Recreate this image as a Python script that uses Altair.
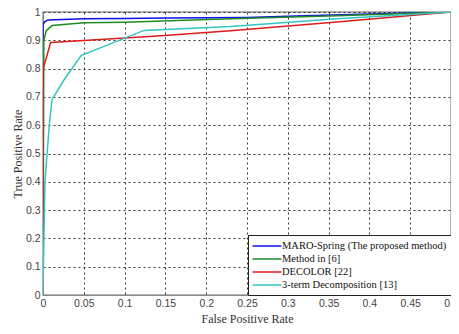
import altair as alt
import pandas as pd

series_names = ["MARO-Spring (The proposed method)", "Method in [6]", "DECOLOR [22]", "3-term Decomposition [13]"]
series_colors = ["#1010ee", "#1f8a1f", "#dd1c1c", "#33c4c4"]

fpr_maro = [0, 0, 0.002, 0.006, 0.05, 0.1, 0.15, 0.25, 0.31, 0.4, 0.5]
tpr_maro = [0, 0.955, 0.965, 0.972, 0.976, 0.977, 0.979, 0.981, 0.986, 0.993, 1.0]

fpr_m6 = [0, 0.001, 0.004, 0.011, 0.05, 0.1, 0.23, 0.36, 0.5]
tpr_m6 = [0, 0.90, 0.934, 0.952, 0.962, 0.964, 0.976, 0.987, 1.0]

fpr_decolor = [0, 0, 0.0003, 0.0094, 0.09, 0.14, 0.23, 0.36, 0.5]
tpr_decolor = [0, 0.73, 0.80, 0.892, 0.906, 0.915, 0.934, 0.965, 1.0]

fpr_3term = [0, 0.0005, 0.0024, 0.005, 0.0077, 0.011, 0.025, 0.047, 0.124, 0.23, 0.36, 0.5]
tpr_3term = [0, 0.1, 0.4, 0.5, 0.6, 0.69, 0.757, 0.847, 0.935, 0.949, 0.976, 1.0]

x_ticks = [0, 0.05, 0.1, 0.15, 0.2, 0.25, 0.3, 0.35, 0.4, 0.45, 0.5]
y_ticks = [0, 0.1, 0.2, 0.3, 0.4, 0.5, 0.6, 0.7, 0.8, 0.9, 1.0]

rows = []
for name, xs, ys in zip(series_names,
                        [fpr_maro, fpr_m6, fpr_decolor, fpr_3term],
                        [tpr_maro, tpr_m6, tpr_decolor, tpr_3term]):
    for i, (x, y) in enumerate(zip(xs, ys)):
        rows.append({"series": name, "fpr": x, "tpr": y, "idx": i})
df = pd.DataFrame(rows)

chart = alt.Chart(df).mark_line(strokeWidth=1.5, clip=True).encode(
    x=alt.X("fpr:Q", title="False Positive Rate",
            scale=alt.Scale(domain=[0, 0.5], nice=False, zero=False),
            axis=alt.Axis(values=x_ticks, format="~g", labelFont="Arial", labelFontSize=10.5,
                          labelColor="#444", titleFont="Liberation Serif", titleFontSize=12,
                          titleFontWeight="normal", titleColor="#333", titlePadding=5,
                          labelPadding=3, ticks=False, domainColor="#888",
                          gridColor="#222", gridDash=[2, 3], gridOpacity=0.9, labelFlush=False)),
    y=alt.Y("tpr:Q", title="True Positive Rate",
            scale=alt.Scale(domain=[0, 1], nice=False),
            axis=alt.Axis(values=y_ticks, format="~g", labelFont="Arial", labelFontSize=10.5,
                          labelColor="#444", titleFont="Liberation Serif", titleFontSize=12,
                          titleFontWeight="normal", titleColor="#333", titlePadding=1,
                          labelPadding=3, ticks=False, domainColor="#888",
                          gridColor="#222", gridDash=[2, 3], gridOpacity=0.9)),
    color=alt.Color("series:N", sort=series_names,
                    scale=alt.Scale(domain=series_names, range=series_colors),
                    legend=alt.Legend(title=None, orient="none", legendX=205, legendY=223,
                                      symbolType="M-2.4,0H2.4", symbolSize=144, symbolStrokeWidth=1.5,
                                      symbolOffset=8,
                                      labelFont="Liberation Serif", labelFontSize=10.5,
                                      labelColor="#111", rowPadding=0, padding=4,
                                      strokeColor="#222", fillColor="white",
                                      labelOffset=8, labelLimit=300)),
    order="idx:Q",
).properties(
    width=408, height=283,
    autosize=alt.AutoSizeParams(type="none"),
    padding={"left": 35, "top": 4, "right": 0, "bottom": 31},
).configure_view(
    stroke="#999", strokeWidth=1.5
)

chart.save("out.html", embed_options={"renderer": "svg", "actions": False})
